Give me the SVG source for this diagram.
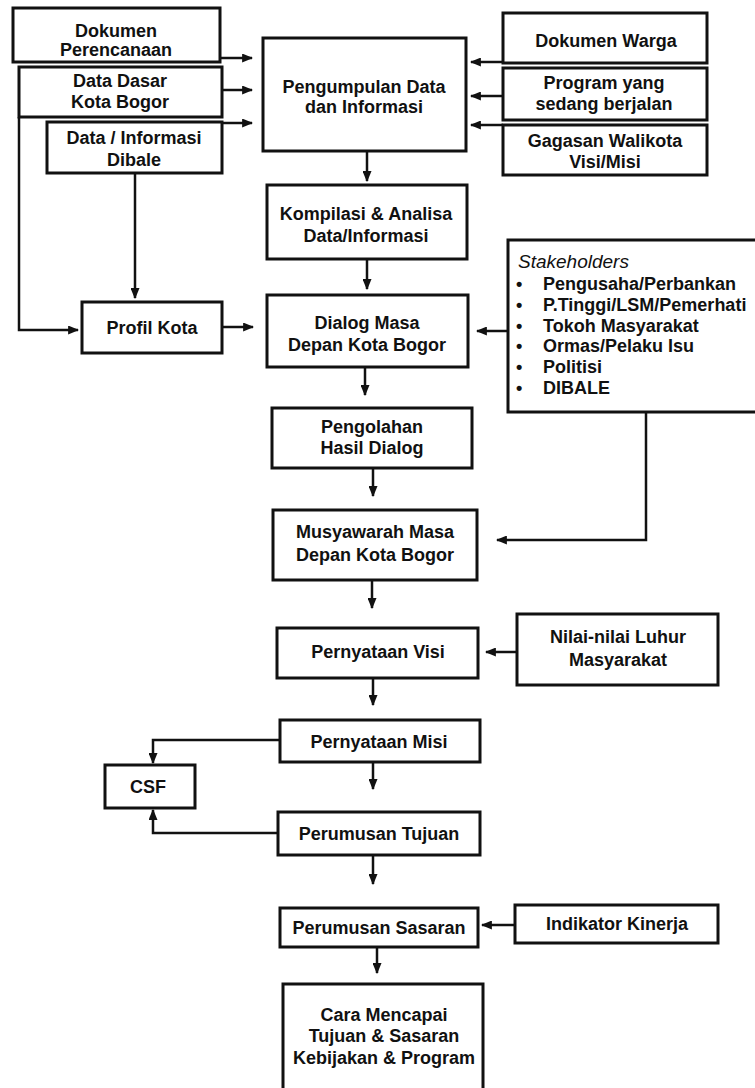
<svg xmlns="http://www.w3.org/2000/svg" width="755" height="1088" viewBox="0 0 755 1088">
<style>
.box{fill:#fff;stroke:#111;stroke-width:3}
.t{font-family:"Liberation Sans",Arial,sans-serif;font-weight:bold;font-size:18px;fill:#111;text-anchor:middle}
.l{font-family:"Liberation Sans",Arial,sans-serif;font-weight:bold;font-size:18px;fill:#111}
.i{font-family:"Liberation Sans",Arial,sans-serif;font-style:italic;font-size:19px;fill:#111}
.c{fill:none;stroke:#111;stroke-width:2.5}
.a{marker-end:url(#ah)}
</style>
<defs>
<marker id="ah" viewBox="0 0 10 10" refX="9" refY="5" markerWidth="11" markerHeight="9" markerUnits="userSpaceOnUse" orient="auto" preserveAspectRatio="none">
<path d="M0,0 L10,5 L0,10 z" fill="#111"/>
</marker>
</defs>
<rect width="755" height="1088" fill="#fff"/>
<g id="connectors">
<path class="c a" d="M220,58 H252"/>
<path class="c a" d="M222,90 H252"/>
<path class="c a" d="M222,123 H252"/>
<path class="c a" d="M19,117 V330 H78"/>
<path class="c a" d="M135,173 V298"/>
<path class="c a" d="M222,327 H253"/>
<path class="c a" d="M503,62 H471"/>
<path class="c a" d="M503,96 H471"/>
<path class="c a" d="M503,125 H471"/>
<path class="c a" d="M367,151 V181"/>
<path class="c a" d="M367,259 V289"/>
<path class="c a" d="M508,331 H477"/>
<path class="c a" d="M365,367 V395"/>
<path class="c a" d="M373,468 V496"/>
<path class="c a" d="M646,412 V540 H497"/>
<path class="c a" d="M372,580 V608"/>
<path class="c a" d="M517,652 H486"/>
<path class="c a" d="M373,678 V705"/>
<path class="c a" d="M373,762 V789"/>
<path class="c a" d="M280,740 H153 V763"/>
<path class="c a" d="M278,833 H153 V810"/>
<path class="c a" d="M373,855 V884"/>
<path class="c a" d="M515,925 H482"/>
<path class="c a" d="M377,947 V973"/>
</g>
<g id="n-dokumen-perencanaan"><rect class="box" x="13" y="8" width="207" height="54"/><text class="t" x="116" y="37">Dokumen</text><text class="t" x="116" y="56">Perencanaan</text></g>
<g id="n-data-dasar"><rect class="box" x="19" y="67" width="203" height="50"/><text class="t" x="120" y="87">Data Dasar</text><text class="t" x="120" y="108">Kota Bogor</text></g>
<g id="n-data-informasi"><rect class="box" x="47" y="122" width="175" height="51"/><text class="t" x="134" y="144">Data / Informasi</text><text class="t" x="134" y="166">Dibale</text></g>
<g id="n-pengumpulan"><rect class="box" x="263" y="38" width="203" height="113"/><text class="t" x="364" y="93">Pengumpulan Data</text><text class="t" x="364" y="113">dan Informasi</text></g>
<g id="n-dokumen-warga"><rect class="box" x="503" y="13" width="204" height="50"/><text class="t" x="606" y="47">Dokumen Warga</text></g>
<g id="n-program"><rect class="box" x="503" y="68" width="204" height="52"/><text class="t" x="604" y="89">Program yang</text><text class="t" x="604" y="110">sedang berjalan</text></g>
<g id="n-gagasan"><rect class="box" x="503" y="125" width="204" height="50"/><text class="t" x="605" y="147">Gagasan Walikota</text><text class="t" x="605" y="168">Visi/Misi</text></g>
<g id="n-kompilasi"><rect class="box" x="267" y="185" width="200" height="74"/><text class="t" x="366" y="220">Kompilasi &amp; Analisa</text><text class="t" x="366" y="242">Data/Informasi</text></g>
<g id="n-profil"><rect class="box" x="82" y="302" width="140" height="51"/><text class="t" x="152" y="334">Profil Kota</text></g>
<g id="n-dialog"><rect class="box" x="267" y="295" width="201" height="72"/><text class="t" x="367" y="329">Dialog Masa</text><text class="t" x="367" y="351">Depan Kota Bogor</text></g>
<g id="n-stakeholders"><rect class="box" x="508" y="240" width="262" height="172"/>
<text class="i" x="518" y="268">Stakeholders</text>
<text class="l" x="516" y="290">•</text><text class="l" x="543" y="290">Pengusaha/Perbankan</text>
<text class="l" x="516" y="311">•</text><text class="l" x="543" y="311">P.Tinggi/LSM/Pemerhati</text>
<text class="l" x="516" y="332">•</text><text class="l" x="543" y="332">Tokoh Masyarakat</text>
<text class="l" x="516" y="352">•</text><text class="l" x="543" y="352">Ormas/Pelaku Isu</text>
<text class="l" x="516" y="373">•</text><text class="l" x="543" y="373">Politisi</text>
<text class="l" x="516" y="394">•</text><text class="l" x="543" y="394">DIBALE</text></g>
<g id="n-pengolahan"><rect class="box" x="272" y="408" width="200" height="60"/><text class="t" x="372" y="433">Pengolahan</text><text class="t" x="372" y="454">Hasil Dialog</text></g>
<g id="n-musyawarah"><rect class="box" x="273" y="510" width="204" height="70"/><text class="t" x="375" y="538">Musyawarah Masa</text><text class="t" x="375" y="561">Depan Kota Bogor</text></g>
<g id="n-visi"><rect class="box" x="277" y="628" width="201" height="50"/><text class="t" x="378" y="658">Pernyataan Visi</text></g>
<g id="n-nilai"><rect class="box" x="517" y="614" width="201" height="71"/><text class="t" x="618" y="643">Nilai-nilai Luhur</text><text class="t" x="618" y="666">Masyarakat</text></g>
<g id="n-misi"><rect class="box" x="280" y="720" width="200" height="42"/><text class="t" x="379" y="748">Pernyataan Misi</text></g>
<g id="n-csf"><rect class="box" x="105" y="765" width="90" height="43"/><text class="t" x="148" y="793">CSF</text></g>
<g id="n-tujuan"><rect class="box" x="278" y="812" width="202" height="43"/><text class="t" x="379" y="840">Perumusan Tujuan</text></g>
<g id="n-sasaran"><rect class="box" x="280" y="908" width="198" height="39"/><text class="t" x="379" y="934">Perumusan Sasaran</text></g>
<g id="n-indikator"><rect class="box" x="515" y="905" width="203" height="38"/><text class="t" x="617" y="930">Indikator Kinerja</text></g>
<g id="n-cara"><rect class="box" x="283" y="984" width="200" height="120"/><text class="t" x="384" y="1021">Cara Mencapai</text><text class="t" x="384" y="1042">Tujuan &amp; Sasaran</text><text class="t" x="384" y="1064">Kebijakan &amp; Program</text></g>
</svg>
